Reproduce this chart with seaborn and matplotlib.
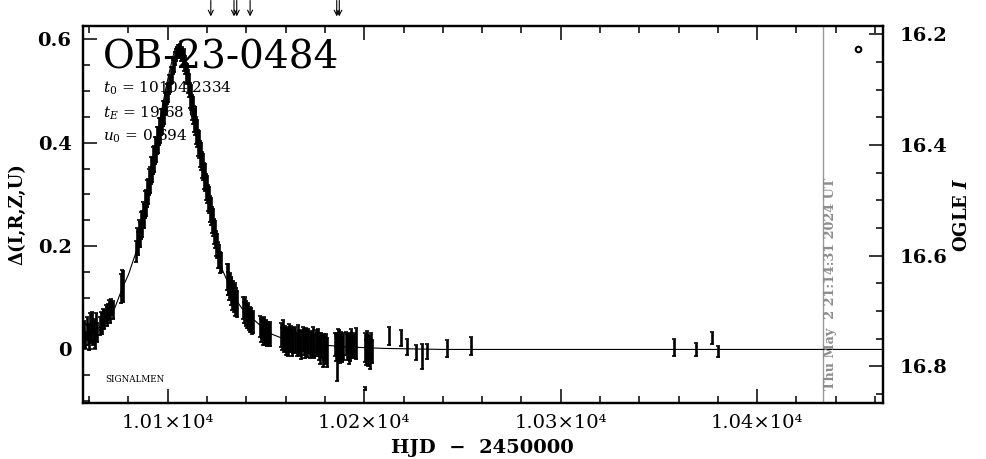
import numpy as np
import matplotlib
matplotlib.use("Agg")
import matplotlib.pyplot as plt
import seaborn as sns
from matplotlib.ticker import MultipleLocator, FixedLocator, FuncFormatter

# ---- data (HJD-2450000, delta flux, error) ----
# early baseline
t_a = [10057.0, 10057.6, 10058.1, 10058.7, 10059.3, 10059.8, 10060.4, 10060.9, 10061.5, 10062.0, 10062.6, 10063.1, 10063.7, 10064.2]
d_a = [0.022, 0.035, 0.018, 0.040, 0.028, 0.015, 0.045, 0.030, 0.052, 0.025, 0.038, 0.020, 0.048, 0.033]
e_a = [0.018, 0.020, 0.016, 0.022, 0.019, 0.017, 0.025, 0.018, 0.020, 0.016, 0.021, 0.018, 0.022, 0.019]

t_b = [10065.3, 10065.9, 10066.5, 10067.1, 10067.7, 10068.3, 10068.9, 10069.5, 10070.1, 10070.7, 10071.3, 10071.9,
       10076.0, 10076.6, 10077.1]
d_b = [0.045, 0.055, 0.050, 0.062, 0.058, 0.068, 0.064, 0.072, 0.078, 0.070, 0.082, 0.076,
       0.118, 0.128, 0.122]
e_b = [0.018, 0.017, 0.020, 0.016, 0.019, 0.017, 0.018, 0.016, 0.017, 0.019, 0.016, 0.018,
       0.028, 0.025, 0.030]

# rising branch
t_rise = [10084.0, 10084.5, 10085.0, 10085.5, 10086.0, 10086.5, 10087.0, 10087.5, 10088.0, 10088.5,
          10089.0, 10089.5, 10090.0, 10090.5, 10091.0, 10091.5, 10092.0, 10092.5, 10093.0, 10093.5,
          10094.0, 10094.5, 10095.0, 10095.5, 10096.0, 10096.5, 10097.0, 10097.5, 10098.0, 10098.5,
          10099.0, 10099.5, 10100.0, 10100.5, 10101.0, 10101.5, 10102.0, 10102.5, 10103.0, 10103.5, 10104.0]
d_rise = [0.190, 0.210, 0.205, 0.225, 0.222, 0.240, 0.243, 0.260, 0.258, 0.281,
          0.283, 0.302, 0.305, 0.324, 0.327, 0.346, 0.348, 0.366, 0.368, 0.385,
          0.386, 0.404, 0.405, 0.422, 0.423, 0.440, 0.441, 0.457, 0.459, 0.475,
          0.478, 0.494, 0.497, 0.512, 0.514, 0.530, 0.531, 0.546, 0.549, 0.563, 0.570]
e_rise = [0.020, 0.024, 0.022, 0.026, 0.024, 0.026, 0.025, 0.026, 0.024, 0.026,
          0.025, 0.026, 0.024, 0.026, 0.025, 0.026, 0.024, 0.026, 0.025, 0.026,
          0.024, 0.026, 0.025, 0.026, 0.024, 0.025, 0.024, 0.024, 0.022, 0.022,
          0.020, 0.020, 0.018, 0.018, 0.016, 0.016, 0.015, 0.014, 0.013, 0.012, 0.012]

# falling branch
t_fall = [10104.5, 10105.0, 10105.5, 10106.0, 10106.5, 10107.0, 10107.5, 10108.0, 10108.5, 10109.0,
          10109.5, 10110.0, 10110.5, 10111.0, 10111.5, 10112.0, 10112.5, 10113.0, 10113.5, 10114.0,
          10114.5, 10115.0, 10115.5, 10116.0, 10116.5, 10117.0, 10117.5, 10118.0, 10118.5, 10119.0,
          10119.5, 10120.0, 10120.5, 10121.0, 10121.5, 10122.0, 10122.5, 10123.0, 10123.5, 10124.0,
          10124.5, 10125.0, 10125.5, 10126.0, 10126.5, 10127.0]
d_fall = [0.575, 0.578, 0.576, 0.579, 0.570, 0.573, 0.564, 0.566, 0.554, 0.550,
          0.535, 0.533, 0.518, 0.511, 0.492, 0.488, 0.468, 0.463, 0.445, 0.440,
          0.422, 0.418, 0.400, 0.396, 0.378, 0.374, 0.357, 0.353, 0.336, 0.332,
          0.315, 0.310, 0.293, 0.289, 0.272, 0.267, 0.250, 0.245, 0.228, 0.223,
          0.205, 0.200, 0.182, 0.180, 0.168, 0.168]
e_fall = [0.011, 0.011, 0.012, 0.011, 0.012, 0.013, 0.014, 0.015, 0.016, 0.018,
          0.019, 0.020, 0.022, 0.022, 0.024, 0.024, 0.025, 0.026, 0.025, 0.026,
          0.025, 0.026, 0.025, 0.026, 0.025, 0.026, 0.025, 0.026, 0.025, 0.026,
          0.025, 0.026, 0.025, 0.026, 0.025, 0.026, 0.025, 0.026, 0.025, 0.026,
          0.025, 0.024, 0.025, 0.022, 0.020, 0.018]

# tail clusters
t_c = [10130.0, 10130.4, 10130.8, 10131.2, 10131.6, 10132.0, 10132.4, 10132.8, 10133.2, 10133.6, 10134.0, 10134.4, 10134.8, 10135.2,
       10138.4, 10138.8, 10139.2, 10139.6, 10140.0, 10140.4, 10140.8, 10141.2, 10141.6, 10142.0, 10142.4, 10142.8, 10143.2,
       10147.0, 10147.5, 10148.0, 10148.5, 10149.0, 10149.5, 10150.0, 10150.5, 10151.0, 10151.5, 10152.0]
d_c = [0.140, 0.128, 0.135, 0.120, 0.126, 0.112, 0.118, 0.105, 0.110, 0.098, 0.104, 0.092, 0.097, 0.088,
       0.080, 0.072, 0.076, 0.066, 0.070, 0.062, 0.066, 0.058, 0.061, 0.054, 0.057, 0.050, 0.053,
       0.045, 0.036, 0.042, 0.030, 0.038, 0.028, 0.035, 0.025, 0.032, 0.027, 0.030]
e_c = [0.025, 0.022, 0.030, 0.024, 0.021, 0.026, 0.023, 0.028, 0.022, 0.025, 0.024, 0.027, 0.022, 0.025,
       0.022, 0.020, 0.025, 0.021, 0.023, 0.020, 0.024, 0.021, 0.022, 0.020, 0.023, 0.021, 0.022,
       0.020, 0.022, 0.019, 0.021, 0.024, 0.020, 0.022, 0.019, 0.021, 0.020, 0.023]

t_d = [10157.8, 10158.3, 10158.8, 10159.3, 10159.8, 10160.3, 10160.8, 10161.3, 10161.8, 10162.3, 10162.8, 10163.3, 10163.8,
       10165.0, 10165.6, 10166.2, 10166.8, 10167.4, 10168.0, 10168.6, 10169.2, 10169.8, 10170.4, 10171.0, 10171.6, 10172.2,
       10172.8, 10173.4, 10174.0, 10174.6, 10175.2, 10175.8, 10176.4,
       10177.0, 10177.6, 10178.2, 10178.8, 10179.4, 10180.0, 10180.6, 10181.2]
d_d = [0.028, 0.020, 0.030, 0.018, 0.025, 0.015, 0.022, 0.012, 0.026, 0.016, 0.020, 0.010, 0.018,
       0.018, 0.010, 0.022, 0.012, 0.016, 0.008, 0.020, 0.014, 0.006, 0.018, 0.012, 0.016, 0.008,
       0.014, 0.010, 0.018, 0.006, 0.012, 0.009, 0.015,
       0.006, 0.000, 0.008, -0.004, 0.004, -0.002, 0.005, -0.006]
e_d = [0.024, 0.022, 0.026, 0.023, 0.021, 0.025, 0.022, 0.024, 0.023, 0.021, 0.025, 0.022, 0.024,
       0.025, 0.022, 0.026, 0.024, 0.022, 0.027, 0.023, 0.025, 0.022, 0.024, 0.026, 0.023, 0.025,
       0.022, 0.024, 0.026, 0.023, 0.025, 0.022, 0.024,
       0.026, 0.028, 0.024, 0.030, 0.025, 0.027, 0.024, 0.028]

t_e = [10185.2, 10185.7, 10186.0, 10186.4, 10186.9, 10187.4, 10187.9, 10188.4, 10188.9, 10189.3,
       10190.5, 10191.0, 10191.5, 10192.0, 10192.5, 10193.0, 10193.5, 10194.0, 10195.0, 10196.0,
       10200.4, 10200.5, 10201.0, 10201.5, 10202.0, 10202.5, 10203.0, 10203.5, 10204.2]
d_e = [0.010, 0.004, -0.015, 0.012, 0.002, 0.008, -0.002, 0.006, 0.000, 0.005,
       0.012, 0.004, 0.010, 0.000, 0.008, 0.002, 0.014, 0.006, 0.008, 0.012,
       -0.075, 0.004, -0.006, 0.008, -0.002, 0.002, -0.010, 0.006, -0.004]
e_e = [0.022, 0.026, 0.047, 0.028, 0.024, 0.030, 0.025, 0.027, 0.024, 0.026,
       0.022, 0.025, 0.020, 0.028, 0.023, 0.025, 0.026, 0.022, 0.024, 0.030,
       0.003, 0.028, 0.025, 0.027, 0.030, 0.024, 0.028, 0.025, 0.022]

# sparse late points
t_f = [10212.8, 10218.6, 10222.0, 10226.4, 10229.6, 10231.8, 10242.3, 10254.5, 10357.8, 10368.9, 10376.8, 10380.0]
d_f = [0.026, 0.022, 0.005, -0.006, -0.014, -0.004, 0.002, 0.007, 0.004, 0.000, 0.022, -0.004]
e_f = [0.017, 0.015, 0.016, 0.014, 0.024, 0.015, 0.017, 0.017, 0.016, 0.013, 0.012, 0.010]

# model curve as drawn
model_t = [10056.7, 10062, 10066, 10070, 10073, 10077, 10080, 10084, 10088, 10092, 10096, 10099, 10101, 10103,
           10104.2, 10106, 10108, 10110, 10112, 10114, 10116, 10118, 10120, 10122, 10124, 10126, 10128, 10130,
           10134, 10138, 10142, 10146, 10150, 10152, 10158, 10165, 10175, 10190, 10210, 10240, 10470]
model_d = [0.028, 0.035, 0.045, 0.062, 0.080, 0.120, 0.145, 0.190, 0.265, 0.355, 0.445, 0.505, 0.540, 0.572,
           0.585, 0.582, 0.565, 0.530, 0.485, 0.440, 0.395, 0.350, 0.307, 0.263, 0.220, 0.180, 0.152, 0.135,
           0.100, 0.078, 0.064, 0.050, 0.037, 0.031, 0.022, 0.016, 0.010, 0.005, 0.002, 0.0, 0.0]

arrow_t = [10121.9, 10133.7, 10135.1, 10141.9, 10186.0, 10187.3]
now_t = 10433.6
mag_ticks = [16.2, 16.4, 16.6, 16.8]

sns.set_theme(style="ticks")
plt.rcParams['font.family'] = ['DejaVu Serif']
plt.rcParams['mathtext.fontset'] = 'dejavuserif'
for k in ['text.color', 'axes.labelcolor', 'xtick.color', 'ytick.color', 'axes.edgecolor']:
    plt.rcParams[k] = 'black'

fig = plt.figure(figsize=(9.86, 4.59), dpi=100)
ax = fig.add_axes([0.0839, 0.1227, 0.8113, 0.8207])

ebkw = dict(fmt='none', ecolor='black', elinewidth=1.9, capsize=1.6, capthick=1.2, zorder=3)
for tt, dd, ee in [(t_a, d_a, e_a), (t_b, d_b, e_b), (t_rise, d_rise, e_rise), (t_fall, d_fall, e_fall),
                   (t_c, d_c, e_c), (t_d, d_d, e_d), (t_e, d_e, e_e), (t_f, d_f, e_f)]:
    ax.errorbar(tt, dd, yerr=ee, **ebkw)

sns.lineplot(x=model_t, y=model_d, ax=ax, color='black', lw=0.8, sort=False, estimator=None, zorder=2)

ax.set_xlim(10056.7, 10463.9)
ax.set_ylim(-0.103, 0.6257)

ax.xaxis.set_major_locator(FixedLocator([10100, 10200, 10300, 10400]))
ax.xaxis.set_minor_locator(MultipleLocator(20))
ax.xaxis.set_major_formatter(FuncFormatter(lambda v, p: '%.2f×10⁴' % (v / 1e4)))
ax.yaxis.set_major_locator(FixedLocator([0, 0.2, 0.4, 0.6]))
ax.yaxis.set_minor_locator(MultipleLocator(0.05))
ax.yaxis.set_major_formatter(FuncFormatter(lambda v, p: '0' if abs(v) < 1e-9 else '%.1f' % v))

ax.tick_params(which='both', direction='in', top=True, right=False, width=1.1, color='black')
ax.tick_params(which='major', length=10)
ax.tick_params(which='minor', length=5)
ax.tick_params(axis='y', labelsize=14, pad=8)
ax.tick_params(axis='x', labelsize=14, pad=8)
for lb in ax.get_yticklabels():
    lb.set_fontweight('bold')
for sp in ax.spines.values():
    sp.set_linewidth(1.6)

ax.set_xlabel('HJD  −  2450000', fontsize=14, fontweight='bold', labelpad=5)
ax.set_ylabel('Δ(I,R,Z,U)', fontsize=13, fontweight='bold', labelpad=8)

ax2 = ax.twinx()
ax2.set_ylim(16.8655, 16.1846)
ax2.yaxis.set_major_locator(FixedLocator(mag_ticks))
ax2.yaxis.set_minor_locator(MultipleLocator(0.05))
ax2.yaxis.set_major_formatter(FuncFormatter(lambda v, p: '%.1f' % v))
ax2.tick_params(which='both', direction='in', width=1.1, color='black', labelsize=14, pad=12)
ax2.tick_params(which='major', length=10)
ax2.tick_params(which='minor', length=5)
for lb in ax2.get_yticklabels():
    lb.set_fontweight('bold')
ax2.set_ylabel('OGLE $\\mathbfit{I}$', fontsize=13, fontweight='bold', labelpad=4)
for sp in ax2.spines.values():
    sp.set_linewidth(1.6)
ax2.grid(False)
ax.grid(False)

# current date marker
ax.axvline(now_t, color='#999999', lw=1, zorder=1)
ax.text(10437.1, -0.079, 'Thu May  2 21:14:31 2024 UT', rotation=90, ha='center', va='bottom',
        fontsize=9.2, fontweight='bold', color='#8c8c8c')
ax.plot([10451.4], [0.581], marker='o', mfc='white', mec='black', ms=4, mew=1.5, ls='none')

# event name and parameters
ax.text(0.025, 0.965, 'OB-23-0484', transform=ax.transAxes, fontsize=28, va='top', ha='left', zorder=1)
ax.text(0.025, 0.822, '$t_0$ = 10104.2334', transform=ax.transAxes, fontsize=11, ha='left', zorder=1)
ax.text(0.025, 0.758, '$t_E$ = 19.68 d', transform=ax.transAxes, fontsize=11, ha='left', zorder=1)
ax.text(0.025, 0.697, '$u_0$ = 0.694', transform=ax.transAxes, fontsize=11, ha='left', zorder=1)
ax.text(0.028, 0.055, 'SIGNALMEN', transform=ax.transAxes, fontsize=6.3, ha='left', zorder=1)

# arrows above the frame
for at in arrow_t:
    ax.annotate('', xy=(at, 1.018), xycoords=('data', 'axes fraction'),
                xytext=(at, 1.075), textcoords=('data', 'axes fraction'),
                arrowprops=dict(arrowstyle='->', lw=0.8, color='black', mutation_scale=9),
                annotation_clip=False)

fig.savefig('out.png', dpi=100, facecolor='white')
